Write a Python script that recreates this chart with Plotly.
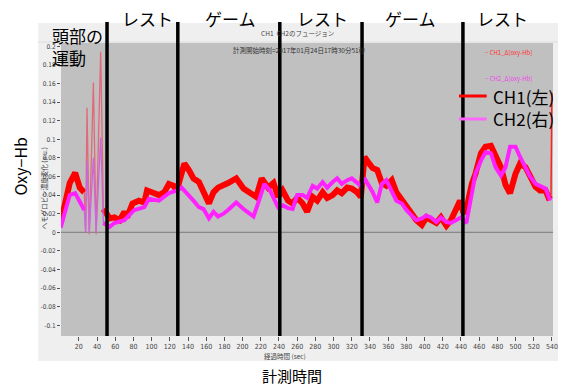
import plotly.graph_objects as go

# ---------------- data ----------------
ch1_t = [0, 5, 10, 16, 21, 26, 27.5, 29, 31.5, 36, 39, 44, 47, 50, 54, 59, 65, 70, 73, 79, 86, 92, 95,
         103, 108, 114, 119, 124, 128, 130, 136, 141, 146, 152, 157, 163, 168, 173, 184, 193, 201, 208,
         215, 221, 228, 234, 239, 244, 250, 255, 260, 266, 271, 277, 282, 288, 293, 299, 304, 309, 315,
         320, 326, 330, 334, 339, 343, 348, 353, 358, 364, 369, 375, 380, 386, 391, 397, 402, 407, 413,
         418, 424, 429, 435, 439, 443, 448, 452, 456, 462, 467, 473, 478, 484, 489, 494, 500, 505, 511,
         516, 522, 527, 533, 536, 539, 540]
ch1_v = [0.010, 0.031, 0.053, 0.064, 0.048, 0.043, 0.000, 0.134, -0.002, 0.161, -0.002, 0.194, 0.025,
         0.020, 0.015, 0.016, 0.013, 0.022, 0.016, 0.031, 0.034, 0.032, 0.045, 0.042, 0.040, 0.043, 0.052,
         0.050, 0.045, 0.053, 0.074, 0.067, 0.058, 0.054, 0.045, 0.031, 0.043, 0.048, 0.053, 0.058, 0.047,
         0.043, 0.038, 0.058, 0.048, 0.053, 0.038, 0.045, 0.034, 0.031, 0.037, 0.031, 0.022, 0.038, 0.034,
         0.043, 0.037, 0.040, 0.045, 0.042, 0.048, 0.047, 0.043, 0.038, 0.081, 0.074, 0.069, 0.067, 0.053,
         0.050, 0.056, 0.043, 0.034, 0.029, 0.020, 0.013, 0.008, 0.016, 0.013, 0.010, 0.016, 0.007, 0.013,
         0.027, 0.034, 0.020, 0.034, 0.052, 0.063, 0.085, 0.092, 0.093, 0.081, 0.070, 0.051, 0.042, 0.063,
         0.074, 0.070, 0.060, 0.049, 0.045, 0.045, 0.038, 0.040, 0.150]

ch2_t = [0, 10, 16, 21, 26, 27.5, 29, 31.5, 36, 39, 44, 47, 54, 59, 70, 81, 92, 97, 108, 119, 128, 133,
         141, 146, 152, 157, 163, 168, 173, 179, 184, 193, 201, 212, 217, 224, 230, 239, 244, 250, 255,
         260, 266, 271, 277, 282, 288, 293, 299, 304, 309, 315, 320, 326, 330, 334, 339, 343, 348, 353,
         358, 364, 369, 375, 380, 386, 391, 397, 402, 407, 413, 418, 424, 429, 435, 440, 446, 451, 456,
         462, 467, 473, 478, 484, 489, 494, 500, 505, 511, 516, 522, 527, 533, 538]
ch2_v = [0.005, 0.040, 0.042, 0.032, 0.024, 0.000, 0.077, 0.000, 0.080, 0.000, 0.102, 0.010, 0.006,
         0.010, 0.013, 0.024, 0.027, 0.036, 0.034, 0.042, 0.045, 0.048, 0.040, 0.034, 0.027, 0.025, 0.015,
         0.022, 0.017, 0.020, 0.024, 0.032, 0.025, 0.017, 0.031, 0.052, 0.045, 0.027, 0.029, 0.026, 0.025,
         0.040, 0.040, 0.037, 0.050, 0.047, 0.054, 0.048, 0.054, 0.058, 0.052, 0.056, 0.058, 0.053, 0.050,
         0.058, 0.050, 0.043, 0.032, 0.052, 0.056, 0.045, 0.034, 0.031, 0.024, 0.018, 0.013, 0.015, 0.018,
         0.016, 0.011, 0.016, 0.011, 0.010, 0.013, 0.016, 0.010, 0.038, 0.063, 0.077, 0.086, 0.085, 0.070,
         0.061, 0.070, 0.092, 0.092, 0.081, 0.070, 0.060, 0.052, 0.050, 0.047, 0.034]

phase_bounds = [51.0, 128.8, 240.9, 331.3, 442.2]
phase_labels = ["レスト", "ゲーム", "レスト", "ゲーム", "レスト"]
x_ticks = list(range(20, 541, 20))
y_ticks = [round(-0.1 + 0.02 * i, 2) for i in range(16)]
y_ticklabels = [("%g" % v) for v in y_ticks]

# ---------------- geometry helpers ----------------
W, H = 563, 387
L, R, T, B = 61, 5, 43, 51
PW, PH = W - L - R, H - T - B


def px(xp):
    return (xp - L) / PW


def py(yp):
    return (H - B - yp) / PH


JP = "Noto Sans CJK JP"
SMALL = "Liberation Sans Narrow, DejaVu Sans Condensed, Arial"

fig = go.Figure()

# split indices: head-motion spikes and final end spike drawn thin
i1s, i1e = ch1_t.index(26), ch1_t.index(47) + 1
i2s, i2e = ch2_t.index(26), ch2_t.index(47) + 1
n1 = len(ch1_t)

segments = [
    (ch1_t, ch1_v, 0, i1s + 1, "#ff0000", 6),
    (ch1_t, ch1_v, i1s, i1e, "#e06a78", 1.3),
    (ch1_t, ch1_v, i1e - 1, n1 - 1, "#ff0000", 6),
    (ch1_t, ch1_v, n1 - 2, n1, "#ff2020", 1.5),
    (ch2_t, ch2_v, 0, i2s + 1, "#ff22ff", 4),
    (ch2_t, ch2_v, i2s, i2e, "#cc66dd", 1.3),
    (ch2_t, ch2_v, i2e - 1, len(ch2_t), "#ff22ff", 4),
]
for t, v, a, b, c, lw in segments:
    fig.add_trace(go.Scatter(x=t[a:b], y=v[a:b], mode="lines", line=dict(color=c, width=lw),
                             showlegend=False, hoverinfo="skip"))

shapes = []
# outer light frame and dark plot area
shapes.append(dict(type="rect", xref="paper", yref="paper", x0=px(38), x1=px(563), y0=py(361), y1=py(23),
                   fillcolor="#efefef", line=dict(width=0), layer="below"))
shapes.append(dict(type="line", xref="paper", yref="paper", x0=px(38), x1=px(563), y0=py(42), y1=py(42),
                   line=dict(color="#dddddd", width=1), layer="below"))
shapes.append(dict(type="rect", xref="paper", yref="paper", x0=0, x1=1, y0=0, y1=1,
                   fillcolor="#c0c0c0", line=dict(width=0), layer="below"))
# zero line
shapes.append(dict(type="line", xref="paper", yref="y", x0=0, x1=1, y0=0, y1=0,
                   line=dict(color="#7a7a7a", width=1), layer="below"))
# phase boundary lines
for xb in phase_bounds:
    shapes.append(dict(type="line", xref="x", yref="paper", x0=xb, x1=xb, y0=0, y1=py(22),
                       line=dict(color="black", width=3.5)))
# legend line samples
shapes.append(dict(type="line", xref="paper", yref="paper", x0=px(463), x1=px(491), y0=py(96), y1=py(96),
                   line=dict(color="#ff0000", width=3)))
shapes.append(dict(type="line", xref="paper", yref="paper", x0=px(463), x1=px(491), y0=py(119), y1=py(119),
                   line=dict(color="#ff66ff", width=3)))

ann = []


def A(text, x, y, size, color="black", xa="center", ya="middle", font=JP, angle=0, align="center"):
    ann.append(dict(text=text, x=px(x), y=py(y), xref="paper", yref="paper", showarrow=False,
                    xanchor=xa, yanchor=ya, textangle=angle, align=align,
                    font=dict(family=font, size=size, color=color)))


# phase labels
phase_x = [148, 232, 325, 414, 507]
for lab, xc in zip(phase_labels, phase_x):
    A(lab, xc, 18, 17)
A("頭部の<br>運動", 50, 47, 17, xa="left", align="left")
A("CH1(左)", 495, 96, 17, xa="left")
A("CH2(右)", 495, 119, 17, xa="left")
A("Oxy−Hb", 20, 166, 16, angle=-90)
A("計測時間", 294, 375, 15)
# small inner texts of the original screenshot
A("CH1  CH2のフュージョン", 300, 33, 6.5, color="#444444")
A("計測開始時刻=2017年01月24日17時30分51秒", 302, 50, 6.5, color="#333333")
A("− CH1_Δ[oxy-Hb]", 487, 53, 6, color="#ff3030", xa="left")
A("− CH2_Δ[oxy-Hb]", 487, 78, 6, color="#ee44ee", xa="left")
A("ヘモグロビン濃度変化 (a.u.)", 44, 188, 6.5, color="#444444", angle=-90)
A("経過時間 (sec)", 287, 356, 6.5, color="#444444")

fig.update_layout(
    width=W, height=H, margin=dict(l=L, r=R, t=T, b=B),
    paper_bgcolor="white", plot_bgcolor="rgba(0,0,0,0)",
    shapes=shapes, annotations=ann, showlegend=False,
    xaxis=dict(range=[0.4, 541.2], tickvals=x_ticks, ticktext=[str(v) for v in x_ticks],
               showgrid=False, zeroline=False, showline=False, ticks="outside", ticklen=4,
               tickcolor="#555555", tickwidth=1,
               tickfont=dict(family=SMALL, size=7, color="#444444")),
    yaxis=dict(range=[-0.1115, 0.2035], tickvals=y_ticks, ticktext=y_ticklabels,
               showgrid=False, zeroline=False, showline=False, ticks="outside", ticklen=3,
               tickcolor="#555555", tickwidth=1,
               tickfont=dict(family=SMALL, size=6.5, color="#444444")),
)

fig.write_html("out.html")
